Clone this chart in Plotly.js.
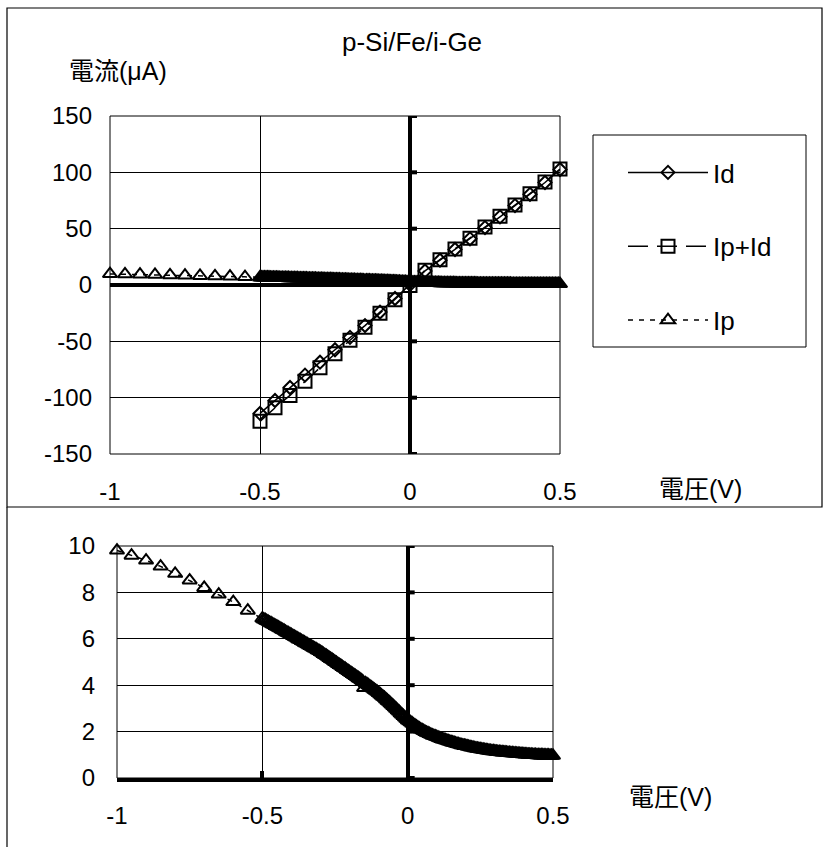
<!DOCTYPE html>
<html>
<head>
<meta charset="utf-8">
<script src="https://cdn.plot.ly/plotly-3.0.1.min.js"></script>
<style>
  html, body { margin: 0; padding: 0; background: #fff; }
  #chart { width: 825px; height: 847px; }
</style>
</head>
<body>
<div id="chart"></div>
<script>
// Bias sweep (V) for the dark current Id and the total current Ip+Id
const sweepVoltage = [-0.5, -0.45, -0.4, -0.35, -0.3, -0.25, -0.2, -0.15, -0.1, -0.05, 0,
                      0.05, 0.1, 0.15, 0.2, 0.25, 0.3, 0.35, 0.4, 0.45, 0.5];
const idCurrent = [-114, -102.5, -91, -80, -68.5, -57.5, -46.5, -36, -24, -12, 0.5,
                   12.5, 22, 31.5, 41, 51, 60.5, 70.5, 80.5, 91, 102.5];
const ipIdCurrent = [-121, -109, -98, -85.5, -73.5, -61, -49, -37.5, -25, -13, -0.5,
                     13, 22.5, 32, 41.5, 51.5, 61, 71, 81, 91.5, 103];

// Photocurrent Ip (uA): coarse steps from -1 V, fine steps from -0.5 V to 0.5 V
const ipVoltage = [
  -1, -0.95, -0.9, -0.85, -0.8, -0.75, -0.7, -0.65, -0.6, -0.55,
  -0.5, -0.495, -0.49, -0.485, -0.48, -0.475, -0.47, -0.465, -0.46,
  -0.455, -0.45, -0.445, -0.44, -0.435, -0.43, -0.425, -0.42,
  -0.415, -0.41, -0.405, -0.4, -0.395, -0.39, -0.385, -0.38,
  -0.375, -0.37, -0.365, -0.36, -0.355, -0.35, -0.345, -0.34,
  -0.335, -0.33, -0.325, -0.32, -0.315, -0.31, -0.305, -0.3,
  -0.295, -0.29, -0.285, -0.28, -0.275, -0.27, -0.265, -0.26,
  -0.255, -0.25, -0.245, -0.24, -0.235, -0.23, -0.225, -0.22,
  -0.215, -0.21, -0.205, -0.2, -0.195, -0.19, -0.185, -0.18,
  -0.175, -0.17, -0.165, -0.16, -0.155, -0.15, -0.145, -0.14,
  -0.135, -0.13, -0.125, -0.12, -0.115, -0.11, -0.105, -0.1,
  -0.095, -0.09, -0.085, -0.08, -0.075, -0.07, -0.065, -0.06,
  -0.055, -0.05, -0.045, -0.04, -0.035, -0.03, -0.025, -0.02,
  -0.015, -0.01, -0.005, 0,
  0.005, 0.01, 0.015, 0.02, 0.025, 0.03, 0.035, 0.04, 0.045, 0.05,
  0.055, 0.06, 0.065, 0.07, 0.075, 0.08, 0.085, 0.09, 0.095, 0.1,
  0.105, 0.11, 0.115, 0.12, 0.125, 0.13, 0.135, 0.14, 0.145, 0.15,
  0.155, 0.16, 0.165, 0.17, 0.175, 0.18, 0.185, 0.19, 0.195, 0.2,
  0.205, 0.21, 0.215, 0.22, 0.225, 0.23, 0.235, 0.24, 0.245, 0.25,
  0.255, 0.26, 0.265, 0.27, 0.275, 0.28, 0.285, 0.29, 0.295, 0.3,
  0.305, 0.31, 0.315, 0.32, 0.325, 0.33, 0.335, 0.34, 0.345, 0.35,
  0.355, 0.36, 0.365, 0.37, 0.375, 0.38, 0.385, 0.39, 0.395, 0.4,
  0.405, 0.41, 0.415, 0.42, 0.425, 0.43, 0.435, 0.44, 0.445, 0.45,
  0.455, 0.46, 0.465, 0.47, 0.475, 0.48, 0.485, 0.49, 0.495, 0.5
];
const ipCurrent = [
  9.81, 9.59, 9.38, 9.12, 8.81, 8.52, 8.20, 7.91, 7.59, 7.22,
  6.88, 6.84, 6.81, 6.77, 6.74, 6.70, 6.67, 6.63, 6.60,
  6.56, 6.53, 6.49, 6.46, 6.42, 6.38, 6.35, 6.31,
  6.27, 6.24, 6.20, 6.17, 6.13, 6.09, 6.06, 6.02,
  5.98, 5.95, 5.91, 5.88, 5.84, 5.80, 5.77, 5.73,
  5.69, 5.66, 5.62, 5.59, 5.55, 5.51, 5.48, 5.44,
  5.40, 5.35, 5.31, 5.27, 5.23, 5.18, 5.14, 5.10,
  5.06, 5.01, 4.97, 4.92, 4.88, 4.84, 4.79, 4.75,
  4.71, 4.66, 4.62, 4.57, 4.53, 4.49, 4.44, 4.40,
  4.36, 4.31, 4.27, 4.22, 4.18, 3.88, 4.09, 4.05,
  4.00, 3.95, 3.91, 3.86, 3.81, 3.77, 3.72, 3.67,
  3.62, 3.56, 3.51, 3.46, 3.40, 3.34, 3.29, 3.23,
  3.17, 3.11, 3.05, 2.99, 2.93, 2.87, 2.80, 2.74,
  2.68, 2.62, 2.56, 2.50,
  2.45, 2.41, 2.36, 2.31, 2.27, 2.22, 2.18, 2.14, 2.10, 2.06,
  2.03, 1.99, 1.96, 1.93, 1.90, 1.87, 1.84, 1.82, 1.79, 1.77,
  1.74, 1.72, 1.69, 1.67, 1.65, 1.63, 1.61, 1.59, 1.57, 1.55,
  1.53, 1.51, 1.49, 1.47, 1.46, 1.44, 1.42, 1.41, 1.39, 1.38,
  1.36, 1.35, 1.33, 1.32, 1.31, 1.29, 1.28, 1.27, 1.26, 1.24,
  1.23, 1.22, 1.21, 1.20, 1.19, 1.18, 1.17, 1.16, 1.16, 1.15,
  1.14, 1.13, 1.13, 1.12, 1.11, 1.10, 1.10, 1.09, 1.08, 1.08,
  1.07, 1.07, 1.06, 1.06, 1.05, 1.05, 1.04, 1.04, 1.03, 1.03,
  1.02, 1.02, 1.01, 1.01, 1.01, 1.00, 1.00, 1.00, 0.99, 0.99,
  0.98, 0.98, 0.98, 0.97, 0.97, 0.97, 0.97, 0.96, 0.96, 0.96
];

// Axis ticks
const voltageTicks = [-1, -0.5, 0, 0.5];
const voltageTickText = ['-1', '-0.5', '0', '0.5'];
const currentTicks = [-150, -100, -50, 0, 50, 100, 150];
const currentTickText = ['-150', '-100', '-50', '0', '50', '100', '150'];
const ipTicks = [0, 2, 4, 6, 8, 10];
const ipTickText = ['0', '2', '4', '6', '8', '10'];

const W = 825, H = 847;
const px = x => x / W;          // pixel column -> paper x
const py = y => 1 - y / H;      // pixel row -> paper y
const FONT = 'Arial, "Liberation Sans", "Noto Sans CJK JP", sans-serif';
const BLACK = '#000';

const markerLine = { color: BLACK, width: 2 };

const traces = [
  {
    name: 'Id', legendgroup: 'id', x: sweepVoltage, y: idCurrent,
    xaxis: 'x', yaxis: 'y', mode: 'lines+markers', cliponaxis: false,
    line: { color: BLACK, width: 1.5 },
    marker: { symbol: 'diamond-open', size: 10, color: BLACK, line: markerLine }
  },
  {
    name: 'Ip+Id', legendgroup: 'ipid', x: sweepVoltage, y: ipIdCurrent,
    xaxis: 'x', yaxis: 'y', mode: 'lines+markers', cliponaxis: false,
    line: { color: BLACK, width: 1.5, dash: '20px,9px' },
    marker: { symbol: 'square-open', size: 13, color: BLACK, line: markerLine }
  },
  {
    name: 'Ip', legendgroup: 'ip', x: ipVoltage, y: ipCurrent,
    xaxis: 'x', yaxis: 'y', mode: 'lines+markers', cliponaxis: false,
    line: { color: BLACK, width: 1.5, dash: '5px,6px' },
    marker: { symbol: 'triangle-up-open', size: 12.5, color: BLACK, line: markerLine }
  },
  {
    name: 'Ip', showlegend: false, x: ipVoltage, y: ipCurrent,
    xaxis: 'x2', yaxis: 'y2', mode: 'lines+markers', cliponaxis: false,
    line: { color: BLACK, width: 1.5, dash: '5px,6px' },
    marker: { symbol: 'triangle-up-open', size: 12.5, color: BLACK, line: markerLine }
  }
];

const tickFont = { family: FONT, size: 24, color: BLACK };

const shapes = [
  // outer frames of the two panels
  { type: 'rect', xref: 'paper', yref: 'paper', x0: px(7), x1: px(822), y0: py(507), y1: py(8),
    line: { color: BLACK, width: 1.2 } },
  { type: 'line', xref: 'paper', yref: 'paper', x0: px(7), x1: px(7), y0: py(507), y1: 0,
    line: { color: BLACK, width: 1.2 } },
  // plot-area borders
  { type: 'rect', xref: 'x domain', yref: 'y domain', x0: 0, x1: 1, y0: 0, y1: 1,
    line: { color: BLACK, width: 1 } },
  { type: 'rect', xref: 'x2 domain', yref: 'y2 domain', x0: 0, x1: 1, y0: 0, y1: 1,
    line: { color: BLACK, width: 1 } },
  // legend box
  { type: 'rect', xref: 'paper', yref: 'paper', x0: px(593), x1: px(806), y0: py(347), y1: py(135),
    line: { color: BLACK, width: 1 }, fillcolor: 'rgba(0,0,0,0)' }
];

// short tick marks on the vertical axis that crosses at 0 V
currentTicks.forEach(v => shapes.push({
  type: 'line', xref: 'x', yref: 'y', xsizemode: 'pixel', xanchor: 0, x0: 0, x1: 7,
  y0: v, y1: v, line: { color: BLACK, width: 4 }
}));
ipTicks.forEach(v => shapes.push({
  type: 'line', xref: 'x2', yref: 'y2', xsizemode: 'pixel', xanchor: 0, x0: 0, x1: 7,
  y0: v, y1: v, line: { color: BLACK, width: 4 }
}));

const gridAxis = {
  showgrid: true, gridcolor: BLACK, gridwidth: 1,
  showline: false, ticks: '', tickfont: tickFont, fixedrange: true
};

const layout = {
  width: W, height: H,
  margin: { l: 0, r: 0, t: 0, b: 0, pad: 0 },
  paper_bgcolor: '#fff', plot_bgcolor: '#fff',
  font: { family: FONT, color: BLACK },
  title: {
    text: 'p-Si/Fe/i-Ge', font: { family: FONT, size: 26, color: BLACK },
    x: px(412), xanchor: 'center', y: py(42), yanchor: 'middle'
  },
  xaxis: Object.assign({}, gridAxis, {
    domain: [px(110), px(560)], range: [-1, 0.5], anchor: 'y',
    tickvals: voltageTicks, ticktext: voltageTickText, ticklabelstandoff: 21,
    zeroline: true, zerolinecolor: BLACK, zerolinewidth: 4
  }),
  yaxis: Object.assign({}, gridAxis, {
    domain: [py(454), py(116)], range: [-150, 150], anchor: 'x',
    tickvals: currentTicks, ticktext: currentTickText, ticklabelstandoff: 17,
    zeroline: true, zerolinecolor: BLACK, zerolinewidth: 4
  }),
  xaxis2: Object.assign({}, gridAxis, {
    domain: [px(117), px(553)], range: [-1, 0.5], anchor: 'y2',
    tickvals: voltageTicks, ticktext: voltageTickText, ticklabelstandoff: 13,
    showline: true, linecolor: BLACK, linewidth: 4,
    ticks: 'inside', ticklen: 7, tickwidth: 4, tickcolor: BLACK,
    zeroline: true, zerolinecolor: BLACK, zerolinewidth: 4
  }),
  yaxis2: Object.assign({}, gridAxis, {
    domain: [py(778), py(546)], range: [0, 10], anchor: 'x2',
    tickvals: ipTicks, ticktext: ipTickText, ticklabelstandoff: 21,
    zeroline: false
  }),
  legend: {
    x: px(623), xanchor: 'left', y: py(149), yanchor: 'top',
    bgcolor: 'rgba(0,0,0,0)', borderwidth: 0,
    font: { family: FONT, size: 26, color: BLACK },
    itemwidth: 80, tracegroupgap: 37, traceorder: 'grouped'
  },
  annotations: [
    { text: '電流(μA)', xref: 'paper', yref: 'paper', x: px(118), y: py(71),
      xanchor: 'center', yanchor: 'middle', showarrow: false,
      font: { family: FONT, size: 25, color: BLACK } },
    { text: '電圧(V)', xref: 'paper', yref: 'paper', x: px(700), y: py(489),
      xanchor: 'center', yanchor: 'middle', showarrow: false,
      font: { family: FONT, size: 25, color: BLACK } },
    { text: '電圧(V)', xref: 'paper', yref: 'paper', x: px(670), y: py(797),
      xanchor: 'center', yanchor: 'middle', showarrow: false,
      font: { family: FONT, size: 25, color: BLACK } }
  ],
  shapes: shapes,
  showlegend: true
};

Plotly.newPlot('chart', traces, layout, { displayModeBar: false, staticPlot: true });
</script>
</body>
</html>
